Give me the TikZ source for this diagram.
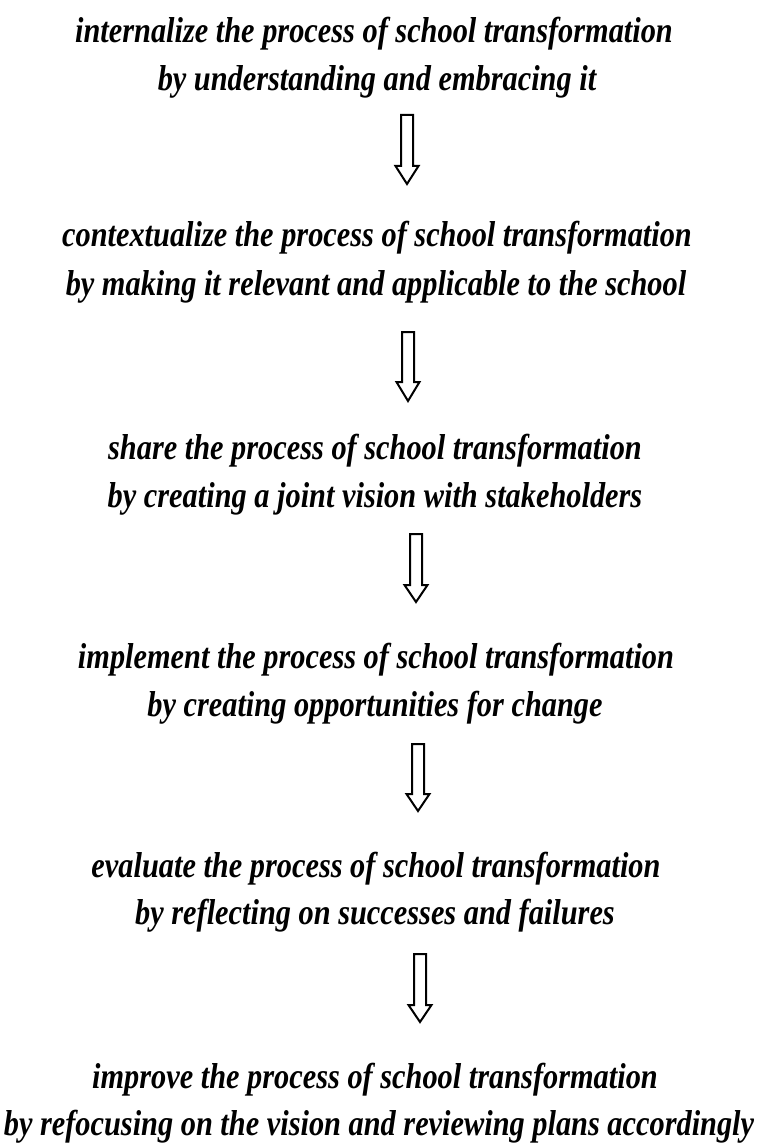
\documentclass[tikz,border=0pt]{standalone}
\usepackage{fontspec}
\setmainfont{Liberation Serif}[FakeStretch=0.843]
\begin{document}
\begin{tikzpicture}[x=1pt,y=-1pt,
  txt/.style={anchor=base,inner sep=0pt,font=\fontsize{36}{36}\selectfont\bfseries\itshape},
  blockarrow/.style={draw=black,line width=2pt,line join=miter,fill=white}]
\useasboundingbox (0,0) rectangle (761,1147);
\newcommand\harrow[4]{%
  \draw[blockarrow] (#1-6,#2) -- (#1+6,#2) -- (#1+6,#3) -- (#1+11.5,#3) -- (#1,#4) -- (#1-11.5,#3) -- (#1-6,#3) -- cycle;}
\node[txt] (l1) at (374,43) {internalize the process of school transformation};
\node[txt] (l2) at (377,91) {by understanding and embracing it};
\node[txt] (l3) at (377,247) {contextualize the process of school transformation};
\node[txt] (l4) at (376,295) {by making it relevant and applicable to the school};
\node[txt] (l5) at (375,459) {share the process of school transformation};
\node[txt] (l6) at (375,507) {by creating a joint vision with stakeholders};
\node[txt] (l7) at (376,668) {implement the process of school transformation};
\node[txt] (l8) at (375,716) {by creating opportunities for change};
\node[txt] (l9) at (376,877) {evaluate the process of school transformation};
\node[txt] (l10) at (375,924) {by reflecting on successes and failures};
\node[txt] (l11) at (375,1088) {improve the process of school transformation};
\node[txt] (l12) at (379,1135) {by refocusing on the vision and reviewing plans accordingly};
\harrow{407}{115}{166}{184}
\harrow{408}{332}{382}{401}
\harrow{416}{534}{585}{602}
\harrow{418}{744}{794}{811}
\harrow{420}{954}{1005}{1022}
\end{tikzpicture}
\end{document}
